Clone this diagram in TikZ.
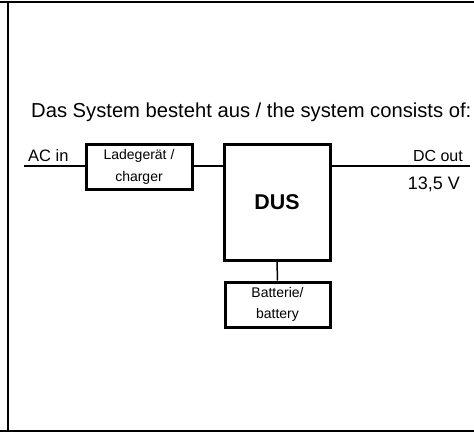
\documentclass[tikz,border=0pt]{standalone}
\usepackage{fontspec}
\setmainfont{Liberation Sans}
\usetikzlibrary{positioning,calc}
\tikzset{
  blockbox/.style={draw=black,line width=3pt,rectangle,inner sep=0pt,align=center},
  wire/.style={line width=2pt},
  thinwire/.style={line width=1.5pt},
  framerule/.style={line width=1.6pt}
}

\begin{document}
\begin{tikzpicture}[x=1pt,y=-1pt]
				\useasboundingbox (0,0) rectangle (474,434);
				% frame
				\coordinate (ftl) at (0,2);
				\coordinate (ftr) at (474,2);
				\coordinate (fbl) at (0,431);
				\coordinate (fbr) at (474,431);
				\draw[framerule] (ftl)--(ftr);
				\draw[framerule] (fbl)--(fbr);
				\draw[framerule] (8,2)--(8,431);
				
				\node[anchor=base west,font=\fontsize{20.2}{22}\selectfont,inner sep=0pt] (title) at (31,117) {Das System besteht aus / the system consists of:};
				
				\node[blockbox,minimum width=106pt,minimum height=45pt,font=\fontsize{14}{22}\selectfont] (charger) at (139,166.5) {Ladegerät /\\charger};
				\node[blockbox,minimum width=106pt,minimum height=116pt,font=\fontsize{21.4}{24}\selectfont\bfseries] (dus) at (277,202) {DUS};
				\node[blockbox,minimum width=105pt,minimum height=45pt,font=\fontsize{14}{21}\selectfont] (battery) at (277.5,304.5) {Batterie/\\battery};
				
				\coordinate (acin) at (24,166);
				\coordinate (dcout) at (470,166);
				\draw[wire] (acin)--(acin -| charger.west);
				\draw[wire] (charger.east |- acin)--(acin -| dus.west);
				\draw[wire] (dcout -| dus.east)--(dcout);
				\draw[thinwire] (dus.south)--(battery.north);
				
				\node[anchor=base west,font=\fontsize{16.5}{18}\selectfont,inner sep=0pt] (aclabel) at (28,161) {AC in};
				\node[anchor=base east,font=\fontsize{16}{18}\selectfont,inner sep=0pt] (dclabel) at (463,161) {DC out};
				\node[anchor=base east,font=\fontsize{18}{22}\selectfont,inner sep=0pt] (voltlabel) at (460,189) {13,5 V};
			\end{tikzpicture}
\end{document}
